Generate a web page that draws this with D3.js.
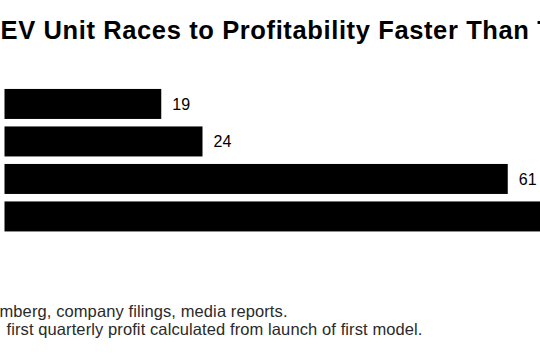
<!DOCTYPE html>
<html>
<head>
<meta charset="utf-8">
<script src="https://cdn.jsdelivr.net/npm/d3@7"></script>
<style>
  html, body { margin: 0; padding: 0; background: #fff; overflow: hidden; }
  svg { display: block; }
  text { font-family: "Liberation Sans", Arial, Helvetica, sans-serif; }
</style>
</head>
<body>
<svg id="chart" width="540" height="360"></svg>
<script>
// Data (months from launch of first model to first quarterly profit)
const categories = ["Xiaomi", "Li Auto", "Tesla", "Leapmotor"];
const months = [19, 24, 61, 71];
const titleText = "EV Unit Races to Profitability Faster Than T";
const sourceText = "mberg, company filings, media reports.";
const noteText = "first quarterly profit calculated from launch of first model.";

const W = 540, H = 360;
const svg = d3.select("#chart");

svg.append("rect").attr("width", W).attr("height", H).attr("fill", "#fff");

// Title
svg.append("text")
  .attr("x", 0.5).attr("y", 38.5)
  .attr("font-size", 25.5).attr("font-weight", "bold").attr("fill", "#000")
  .attr("letter-spacing", 0.62)
  .text(titleText);

// Scales
const x = d3.scaleLinear().domain([0, 65]).range([4.5, 4.5 + 65 * 8.25]);
const y = d3.scaleBand().domain(categories).range([85.2, 235.2]).paddingInner(0.2).paddingOuter(0.1);

const data = categories.map((c, i) => ({ c, v: months[i] }));

svg.append("g").selectAll("rect").data(data).join("rect")
  .attr("x", x(0))
  .attr("y", d => y(d.c))
  .attr("width", d => x(d.v) - x(0))
  .attr("height", y.bandwidth())
  .attr("fill", "#000");

// value labels (the last one lies beyond the visible frame, as in the reference)
svg.append("g").selectAll("text").data(data.filter(d => x(d.v) + 11 < W)).join("text")
  .attr("x", d => x(d.v) + 11)
  .attr("y", d => y(d.c) + y.bandwidth() / 2)
  .attr("dy", "0.35em")
  .attr("font-size", 16).attr("fill", "#000")
  .text(d => d.v);

// Footer
svg.append("text")
  .attr("x", -0.5).attr("y", 317)
  .attr("font-size", 16.5).attr("fill", "#2a2a2a")
  .attr("letter-spacing", 0.1)
  .text(sourceText);
svg.append("text")
  .attr("x", 6.5).attr("y", 335)
  .attr("font-size", 16.5).attr("fill", "#2a2a2a")
  .attr("letter-spacing", 0.1)
  .text(noteText);
</script>
</body>
</html>
